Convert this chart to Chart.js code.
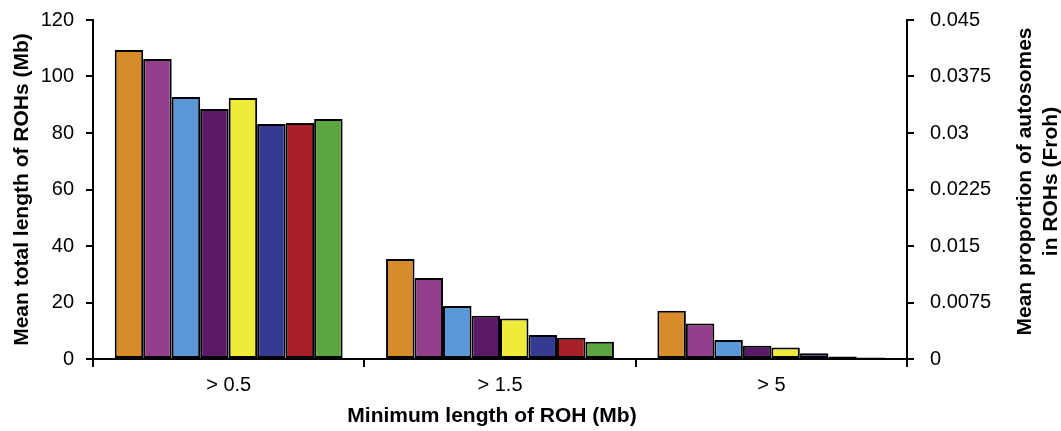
<!DOCTYPE html>
<html>
<head>
<meta charset="utf-8">
<script src="https://cdn.jsdelivr.net/npm/chart.js@4"></script>
<style>
  html, body { margin: 0; padding: 0; background: #fff; }
  #wrap { width: 1061px; height: 431px; position: relative; }
</style>
</head>
<body>
<div id="wrap"><canvas id="rohChart"></canvas></div>
<script>
// Categories on the x axis
const categories = ['> 0.5', '> 1.5', '> 5'];

// Mean total length of ROHs (Mb), one array per population
const pop1 = [109.4, 35.4, 17.1];
const pop2 = [106.2, 28.7, 12.6];
const pop3 = [92.7, 18.8, 6.7];
const pop4 = [88.5, 15.3, 4.7];
const pop5 = [92.4, 14.3, 4.1];
const pop6 = [83.2, 8.5, 2.0];
const pop7 = [83.5, 7.5, 0.9];
const pop8 = [85.0, 6.1, 0.5];

const seriesNames = ['Pop 1', 'Pop 2', 'Pop 3', 'Pop 4', 'Pop 5', 'Pop 6', 'Pop 7', 'Pop 8'];
const seriesValues = [pop1, pop2, pop3, pop4, pop5, pop6, pop7, pop8];
const seriesColors = ['#d88b2a', '#923f8c', '#5b98d8', '#5a1a68', '#eeeb3a', '#363b92', '#a91f27', '#5ba640'];

// Right axis range (Froh)
const frohMax = 0.045;
const frohStep = 0.0075;

const titleLeft = 'Mean total length of ROHs (Mb)';
const titleBottom = 'Minimum length of ROH (Mb)';
const titleRight = ['Mean proportion of autosomes', 'in ROHs (Froh)'];

Chart.defaults.font.family = "'Liberation Sans', Arial, sans-serif";
Chart.defaults.color = '#000';

// axis titles drawn by hand so the right one reads bottom-to-top
const axisTitles = {
    id: 'axisTitles',
    afterDraw(chart) {
        const { ctx, chartArea } = chart;
        const midY = (chartArea.top + chartArea.bottom) / 2;
        ctx.save();
        ctx.fillStyle = '#000';
        ctx.font = "bold 21px 'Liberation Sans', Arial, sans-serif";
        ctx.textAlign = 'center';
        ctx.textBaseline = 'middle';

        ctx.save();
        ctx.translate(22, midY);
        ctx.rotate(-Math.PI / 2);
        ctx.fillText(titleLeft, 0, 0);
        ctx.restore();

        ctx.fillText(titleBottom, (chartArea.left + chartArea.right) / 2 - 8, 416);

        titleRight.forEach((line, i) => {
            ctx.save();
            ctx.translate(chartArea.right + 118 + i * 26, midY - 8);
            ctx.rotate(-Math.PI / 2);
            ctx.fillText(line, 0, 0);
            ctx.restore();
        });
        ctx.restore();
    }
};

// keep the value axes from reserving extra room above the plot
const fitValueAxis = (width) => (scale) => {
    scale.width = width;
    scale.paddingTop = 0;
};

const ctx = document.getElementById('rohChart').getContext('2d');

new Chart(ctx, {
    type: 'bar',
    data: {
        labels: categories,
        datasets: seriesValues.map((vals, i) => ({
            label: seriesNames[i],
            data: vals,
            backgroundColor: seriesColors[i],
            borderColor: '#000',
            borderWidth: 2,
            borderSkipped: false,
            barPercentage: 1,
            categoryPercentage: 0.84,
            yAxisID: 'y'
        }))
    },
    options: {
        responsive: true,
        maintainAspectRatio: false,
        animation: false,
        layout: { padding: { top: 20, left: 0, right: 0, bottom: 0 } },
        plugins: {
            legend: { display: false },
            tooltip: { enabled: false }
        },
        scales: {
            x: {
                grid: {
                    display: true,
                    drawOnChartArea: false,
                    offset: true,
                    color: '#000',
                    lineWidth: 2,
                    tickLength: 8
                },
                border: { color: '#000', width: 2 },
                ticks: { font: { size: 20 }, padding: 6 },
                afterFit: (scale) => { scale.height = 72; }
            },
            y: {
                position: 'left',
                min: 0,
                max: 120,
                ticks: { stepSize: 20, font: { size: 20, lineHeight: 1 }, padding: 12 },
                grid: {
                    drawOnChartArea: false,
                    color: '#000',
                    lineWidth: 2,
                    tickLength: 7
                },
                border: { color: '#000', width: 2 },
                afterFit: fitValueAxis(93)
            },
            y2: {
                position: 'right',
                min: 0,
                max: frohMax,
                ticks: {
                    stepSize: frohStep,
                    font: { size: 20, lineHeight: 1 },
                    padding: 16,
                    callback: (v) => String(Number(v.toFixed(4)))
                },
                grid: {
                    drawOnChartArea: false,
                    color: '#000',
                    lineWidth: 2,
                    tickLength: 7
                },
                border: { color: '#000', width: 2 },
                afterFit: fitValueAxis(154)
            }
        }
    },
    plugins: [axisTitles]
});
</script>
</body>
</html>
